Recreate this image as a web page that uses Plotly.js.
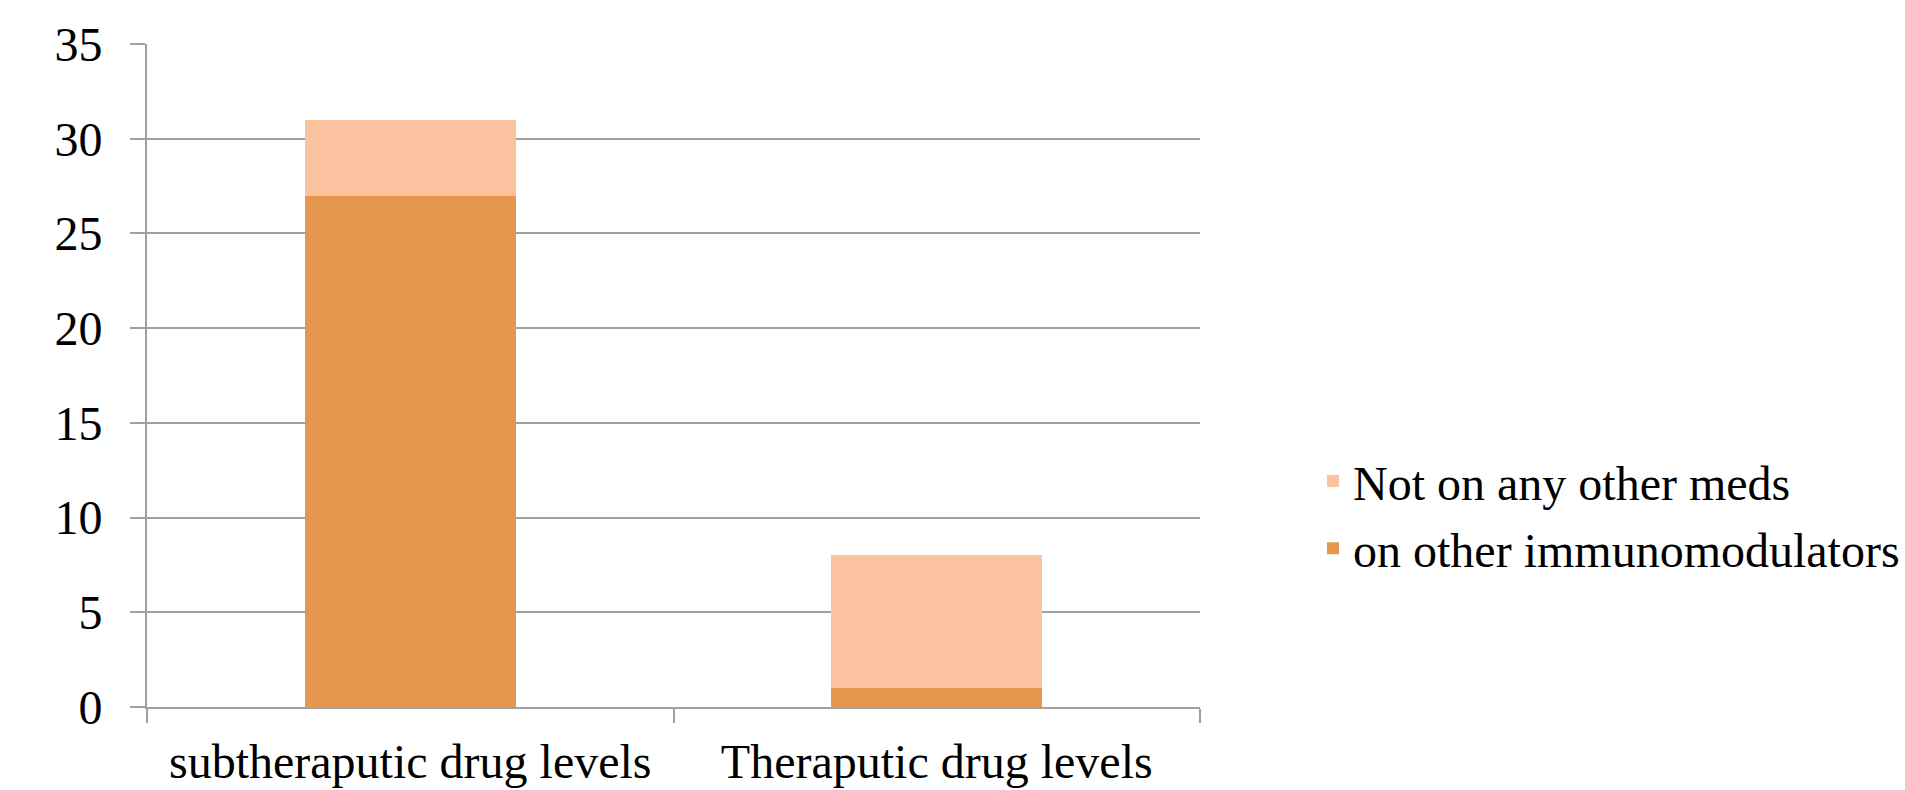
<!DOCTYPE html>
<html>
<head>
<meta charset="utf-8">
<script src="https://cdn.plot.ly/plotly-3.0.1.min.js"></script>
<style>html,body{margin:0;padding:0;background:#fff;}#chart{width:1905px;height:790px;}</style>
</head>
<body>
<div id="chart"></div>
<script>
var categories = ["subtheraputic drug levels", "Theraputic drug levels"];
var seriesNames = ["on other immunomodulators", "Not on any other meds"];
var onOtherImmuno = [27, 1];
var notOnOtherMeds = [4, 7];
var yTicks = [0, 5, 10, 15, 20, 25, 30, 35];

var font = {family: "Liberation Serif, Times New Roman, serif", size: 48, color: "#000"};

var traces = [
  {type: "bar", name: seriesNames[0], x: categories, y: onOtherImmuno,
   marker: {color: "#E3974F"}, legendgroup: "a", legendrank: 2, hoverinfo: "y"},
  {type: "bar", name: seriesNames[1], x: categories, y: notOnOtherMeds,
   marker: {color: "#FBC2A0"}, legendgroup: "b", legendrank: 1, hoverinfo: "y"}
];

var layout = {
  width: 1905, height: 790,
  margin: {l: 147, r: 705, t: 44, b: 83, pad: 0},
  paper_bgcolor: "#fff", plot_bgcolor: "#fff",
  barmode: "stack",
  bargap: 0.6,
  font: font,
  xaxis: {
    type: "category",
    showgrid: false,
    showline: true, linecolor: "#A0A0A0", linewidth: 2,
    ticks: "outside", tickson: "boundaries", ticklen: 14, tickcolor: "#A0A0A0", tickwidth: 2,
    tickfont: font, ticklabelstandoff: 11,
    zeroline: false
  },
  yaxis: {
    range: [0, 35],
    tickvals: yTicks,
    ticktext: yTicks.map(String),
    showgrid: true, gridcolor: "#A0A0A0", gridwidth: 2,
    showline: true, linecolor: "#A0A0A0", linewidth: 2,
    ticks: "outside", ticklen: 15, tickcolor: "#A0A0A0", tickwidth: 2,
    tickfont: font, ticklabelstandoff: 18,
    zeroline: false
  },
  showlegend: true,
  legend: {
    xref: "container", x: 1, xanchor: "right",
    y: 0.29, yanchor: "middle",
    traceorder: "grouped",
    tracegroupgap: 2,
    font: font,
    bgcolor: "rgba(0,0,0,0)"
  }
};

Plotly.newPlot("chart", traces, layout, {staticPlot: true, displayModeBar: false});
</script>
</body>
</html>
